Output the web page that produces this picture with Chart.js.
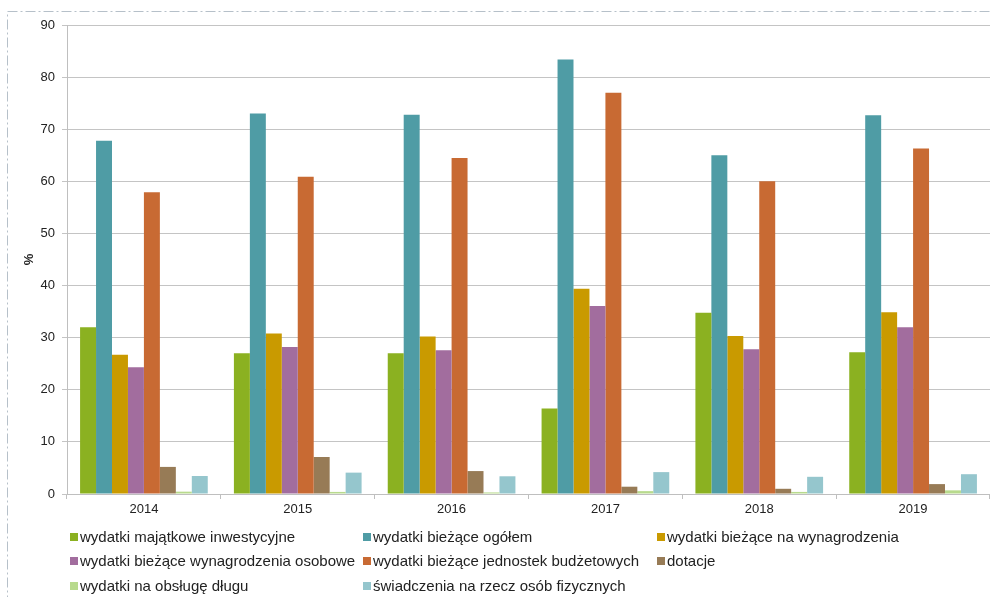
<!DOCTYPE html>
<html>
<head>
<meta charset="utf-8">
<script src="https://cdn.jsdelivr.net/npm/chart.js@4"></script>
<style>
  body { margin: 0; background: #fff; }
  #wrap { position: relative; width: 990px; height: 597px; }
  #legend { position: absolute; left: 0; top: 0; width: 990px; font-family: "Liberation Sans", Arial, sans-serif; font-size: 15px; color: #222; }
  .item { position: absolute; white-space: nowrap; line-height: 17px; }
  .item span.box { display: inline-block; width: 8px; height: 8px; margin-right: 2px; vertical-align: 1px; }
</style>
</head>
<body>
<div id="wrap">
  <canvas id="chart" width="990" height="597"></canvas>
  <div id="legend"></div>
</div>
<script>
const years = ['2014', '2015', '2016', '2017', '2018', '2019'];

const seriesNames = [
    'wydatki majątkowe inwestycyjne',
    'wydatki bieżące ogółem',
    'wydatki bieżące na wynagrodzenia',
    'wydatki bieżące wynagrodzenia osobowe',
    'wydatki bieżące jednostek budżetowych',
    'dotacje',
    'wydatki na obsługę długu',
    'świadczenia na rzecz osób fizycznych'
];

const majatkowe = [32.0, 27.0, 27.0, 16.4, 34.8, 27.2];
const biezaceOgolem = [67.8, 73.0, 72.8, 83.4, 65.0, 72.7];
const naWynagrodzenia = [26.7, 30.8, 30.2, 39.4, 30.3, 34.9];
const wynagrodzeniaOsobowe = [24.3, 28.2, 27.6, 36.1, 27.8, 32.0];
const jednostekBudzetowych = [57.9, 60.9, 64.5, 77.0, 60.0, 66.3];
const dotacje = [5.2, 7.1, 4.4, 1.4, 1.0, 1.9];
const obslugaDlugu = [0.45, 0.4, 0.3, 0.55, 0.4, 0.7];
const swiadczenia = [3.45, 4.1, 3.4, 4.2, 3.3, 3.8];

const yTicks = [0, 10, 20, 30, 40, 50, 60, 70, 80, 90];

const colors = ['#8bb121', '#4f9ca5', '#c99a00', '#a26d9e', '#c86a33', '#977b56', '#b8da8d', '#95c6cd'];
const allValues = [majatkowe, biezaceOgolem, naWynagrodzenia, wynagrodzeniaOsobowe, jednostekBudzetowych, dotacje, obslugaDlugu, swiadczenia];

const font = '"Liberation Sans", Arial, sans-serif';

// dash-dot frame around the whole figure
const framePlugin = {
    id: 'frame',
    beforeDraw(chart) {
        const ctx = chart.ctx;
        ctx.save();
        ctx.strokeStyle = '#b6c0c9';
        ctx.lineWidth = 1;
        ctx.setLineDash([10, 3, 2, 3]);
        ctx.strokeRect(7.5, 11.5, 1100, 700);
        ctx.restore();
    }
};

const chart = new Chart(document.getElementById('chart'), {
    type: 'bar',
    data: {
        labels: years,
        datasets: seriesNames.map((name, i) => ({
            label: name,
            data: allValues[i],
            backgroundColor: colors[i],
            borderWidth: 0,
            categoryPercentage: 0.83,
            barPercentage: 1
        }))
    },
    options: {
        responsive: false,
        animation: false,
        layout: { padding: { top: 25, right: 0, bottom: 77, left: 0 } },
        plugins: {
            legend: { display: false },
            tooltip: { enabled: false }
        },
        scales: {
            x: {
                grid: { display: true, drawOnChartArea: false, drawTicks: true, tickLength: 5, offset: true, color: '#bfbfbf' },
                border: { color: '#bfbfbf' },
                ticks: { color: '#222', font: { family: font, size: 13 }, padding: 3 },
                afterFit(scale) { scale.height = 26; }
            },
            y: {
                min: 0,
                max: 90,
                afterBuildTicks(scale) { scale.ticks = yTicks.map(v => ({ value: v })); },
                grid: { color: '#c4c4c4', tickLength: 5 },
                border: { color: '#bfbfbf' },
                ticks: { color: '#222', font: { family: font, size: 13 }, padding: 7 },
                title: { display: true, text: '%', color: '#222', font: { family: font, size: 13, weight: 'bold' }, padding: { top: 22, bottom: 0 } },
                afterFit(scale) { scale.width = 67; }
            }
        }
    },
    plugins: [framePlugin]
});

// legend in three columns, built from the chart datasets
const legend = document.getElementById('legend');
const colX = [70, 363, 657];
const rowY = [528, 552, 577];
chart.data.datasets.forEach((ds, i) => {
    const el = document.createElement('div');
    el.className = 'item';
    el.style.left = colX[i % 3] + 'px';
    el.style.top = rowY[Math.floor(i / 3)] + 'px';
    el.innerHTML = '<span class="box" style="background:' + ds.backgroundColor + '"></span>' + ds.label;
    legend.appendChild(el);
});
</script>
</body>
</html>
